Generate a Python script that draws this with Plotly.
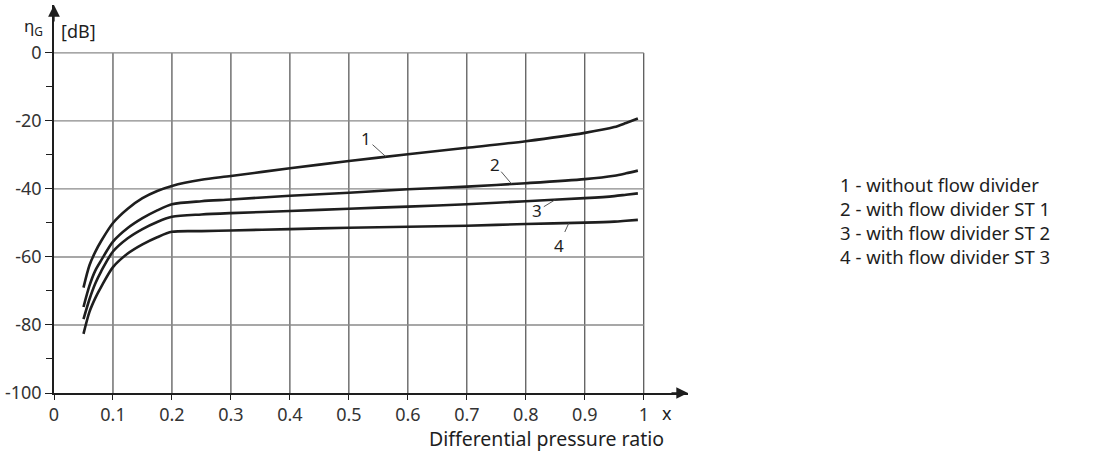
import numpy as np
import plotly.graph_objects as go

# pressure ratio x
X = [0.05, 0.06, 0.07, 0.08, 0.1, 0.125, 0.15, 0.175, 0.2, 0.25, 0.3,
     0.4, 0.5, 0.6, 0.7, 0.8, 0.9, 0.95, 0.97, 0.99]

# eta_G [dB]
CURVE_1 = [-69.0, -62.5, -58.5, -55.3, -50.0, -45.8, -42.7, -40.6, -39.1, -37.3, -36.2,
           -33.9, -31.8, -29.8, -27.9, -25.95, -23.5, -21.8, -20.6, -19.3]
CURVE_2 = [-74.7, -68.5, -64.0, -61.0, -55.5, -51.5, -48.6, -46.3, -44.5, -43.6, -43.1,
           -42.0, -41.1, -40.1, -39.3, -38.3, -37.1, -36.1, -35.4, -34.6]
CURVE_3 = [-78.3, -72.5, -67.8, -64.2, -58.4, -54.5, -51.8, -49.7, -48.2, -47.5, -47.1,
           -46.5, -45.8, -45.2, -44.5, -43.6, -42.7, -42.1, -41.7, -41.3]
CURVE_4 = [-82.6, -76.2, -72.1, -68.8, -63.0, -59.0, -56.3, -54.2, -52.6, -52.4, -52.2,
           -51.8, -51.4, -51.1, -50.8, -50.3, -49.9, -49.6, -49.35, -49.1]

CURVES = [CURVE_1, CURVE_2, CURVE_3, CURVE_4]
CURVE_NAMES = ["1", "2", "3", "4"]
LABEL_AT = [0.563, 0.776, 0.85, 0.873]       # where the leader line touches
LABEL_OFFSET = [(-20, -18), (-17, -20), (-18, 11), (-10, 22)]

LEGEND = ["1 - without flow divider",
          "2 - with flow divider ST 1",
          "3 - with flow divider ST 2",
          "4 - with flow divider ST 3"]

XTICKS = [0, 0.1, 0.2, 0.3, 0.4, 0.5, 0.6, 0.7, 0.8, 0.9, 1.0]
XTICKTEXT = ["0", "0.1", "0.2", "0.3", "0.4", "0.5", "0.6", "0.7", "0.8", "0.9", "1"]
YTICKS = [0, -20, -40, -60, -80, -100]
YTICKTEXT = ["0", "-20", "-40", "-60", "-80", "-100"]
YMINOR = [-10, -30, -50, -70, -90]

INK = "#1e1e1e"
FONT = "Noto Sans"
XMAX, YMAX = 1.075, 14.1

fig = go.Figure()

# grid (only inside the 0..1 / -100..0 box)
for v in XTICKS[1:]:
    fig.add_shape(type="line", x0=v, x1=v, y0=-100, y1=0, layer="below",
                  line=dict(color="#2a2a2a", width=1))
for v in YTICKS[:-1]:
    fig.add_shape(type="line", x0=0, x1=1, y0=v, y1=v, layer="below",
                  line=dict(color="#8a8a8a", width=1.3))

for name, ys in zip(CURVE_NAMES, CURVES):
    fig.add_trace(go.Scatter(x=X, y=ys, mode="lines", name=name,
                             line=dict(color=INK, width=2.6, shape="spline", smoothing=0.8),
                             showlegend=False))

ann = []
# curve number labels with leader lines
for name, ys, xa, (ox, oy) in zip(CURVE_NAMES, CURVES, LABEL_AT, LABEL_OFFSET):
    ann.append(dict(x=xa, y=float(np.interp(xa, X, ys)), text=name,
                    showarrow=True, arrowhead=0, arrowwidth=0.9, arrowcolor="#444",
                    ax=ox, ay=oy, font=dict(size=17, color=INK)))

# axis arrows
ann.append(dict(x=XMAX, y=-100, xref="x", yref="y", text="", showarrow=True,
                arrowhead=2, arrowsize=1.8, arrowwidth=1.3, arrowcolor=INK, ax=-18, ay=0))
ann.append(dict(x=0, y=YMAX, xref="x", yref="y", text="", showarrow=True,
                arrowhead=2, arrowsize=1.8, arrowwidth=1.3, arrowcolor=INK, ax=0, ay=18))

# axis labels
ann.append(dict(x=0, y=7.9, xref="x", yref="y", xanchor="right", yanchor="middle",
                xshift=-9, showarrow=False, text="η<sub>G</sub>",
                font=dict(size=17, color=INK)))
ann.append(dict(x=0, y=6.4, xref="x", yref="y", xanchor="left", yanchor="middle",
                xshift=5, showarrow=False, text="[dB]", font=dict(size=18, color=INK)))
ann.append(dict(x=1.04, y=-100, xref="x", yref="y", yanchor="middle", yshift=-20,
                showarrow=False, text="x", font=dict(size=18, color=INK)))
ann.append(dict(x=0.835, y=-100, xref="x", yref="y", xanchor="center", yanchor="top",
                yshift=-30, showarrow=False, text="Differential pressure ratio",
                font=dict(size=19.5, color=INK)))

# legend block
ann.append(dict(x=1.237, y=-49.3, xref="paper", yref="y", xanchor="left", yanchor="middle",
                align="left", showarrow=False, text="<br>".join(LEGEND),
                font=dict(size=18.5, color=INK)))

fig.update_layout(
    width=1095, height=452,
    paper_bgcolor="white", plot_bgcolor="white",
    font=dict(family=FONT, color=INK, size=17),
    margin=dict(l=54, r=407, t=5, b=59, autoexpand=False),
    showlegend=False,
    annotations=ann,
    xaxis=dict(range=[0, XMAX], tickvals=XTICKS, ticktext=XTICKTEXT, automargin=False,
               showgrid=False, zeroline=False, showline=True, linecolor=INK, linewidth=1.5,
               ticks="outside", ticklen=5, tickcolor=INK, tickwidth=1.2,
               tickfont=dict(size=18, color="#333")),
    yaxis=dict(range=[-100, YMAX], tickvals=YTICKS, ticktext=YTICKTEXT, automargin=False,
               showgrid=False, zeroline=False, showline=True, linecolor=INK, linewidth=1.5,
               ticks="outside", ticklen=7, tickcolor=INK, tickwidth=1.2,
               minor=dict(tickvals=YMINOR, ticks="outside", ticklen=6, tickcolor=INK,
                          tickwidth=1.2, showgrid=False),
               tickfont=dict(size=18, color="#333")),
)

# drop the page's default 8px body margin so the figure sits at (0, 0)
fig.write_html("out.html", config={"displayModeBar": False},
               post_script="document.body.style.margin='0';")
